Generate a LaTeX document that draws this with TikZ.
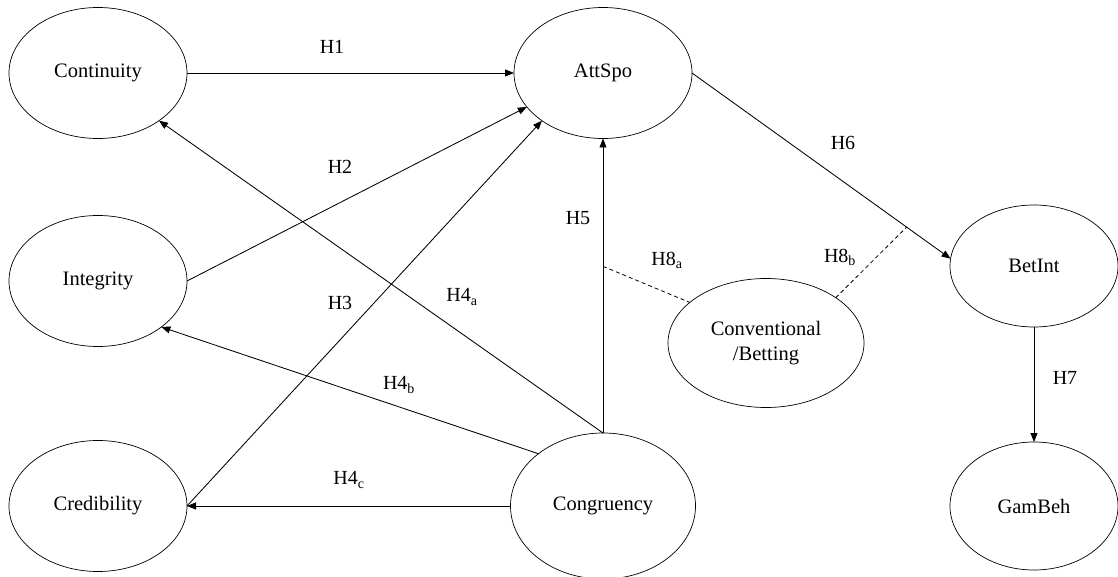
\documentclass[tikz,border=0pt]{standalone}
\usepackage{fontspec}
\setmainfont{Liberation Serif}
\usetikzlibrary{shapes.geometric,arrows.meta}

\tikzset{
  construct/.style={draw, ellipse, line width=0.7pt, inner sep=0pt, outer sep=0pt,
    minimum width=178pt, minimum height=131pt, align=center,
    font=\fontsize{20.5}{25}\selectfont},
  path/.style={line width=0.85pt, -{Triangle[length=9pt,width=7pt]}},
  moderate/.style={line width=0.8pt, dashed, dash pattern=on 4pt off 3pt},
  hyp/.style={font=\fontsize{20}{24}\selectfont}
}

\begin{document}
\begin{tikzpicture}[x=1pt, y=-1pt]
      \useasboundingbox (0,0) rectangle (1118,577);
      % constructs on the left
      \node[construct] (cont) at (98,73) {Continuity};
      \node[construct] (integ) at (98,281) {Integrity};
      \node[construct] (cred) at (98,506) {Credibility};
      % attitude and congruency in the middle
      \node[construct] (att) at (603,73) {AttSpo};
      \node[construct, minimum width=185pt, minimum height=146pt] (cong) at (603,506) {Congruency};
      % moderator
      \node[construct, minimum width=196pt, minimum height=129pt] (conv) at (766,343) {Conventional\\/Betting};
      % outcomes on the right
      \node[construct, minimum width=168pt, minimum height=122pt] (betint) at (1034,266) {BetInt};
      \node[construct, minimum width=168pt, minimum height=128pt] (gam) at (1034,506) {GamBeh};
      % paths to AttSpo
      \draw[path] (cont.east) -- (att.west);
      \draw[path] (integ.east) -- (att.204);
      \draw[path] (cred.east) -- (att.218);
      % paths from Congruency
      \draw[path] (cong.north) -- (cont.322);
      \draw[path] (cong.141) -- (integ.324);
      \draw[path] (cong.west) -- (cred.east);
      \draw[path] (cong.north) -- coordinate[pos=0.566] (h5pt) (att.south);
      % outcomes
      \draw[path] (att.east) -- coordinate[pos=0.83] (h6pt) (betint.175);
      \draw[path] (betint.south) -- (gam.north);
      % moderating effects
      \draw[moderate] (h5pt) -- (conv.152);
      \draw[moderate] (conv.33) -- (h6pt);
      % hypothesis labels
      \node[hyp] (h1) at (332,47) {H1};
      \node[hyp] (h2) at (340,167) {H2};
      \node[hyp] (h3) at (340,303) {H3};
      \node[hyp] (h4a) at (462,297) {H4\textsubscript{a}};
      \node[hyp] (h4b) at (399,385) {H4\textsubscript{b}};
      \node[hyp] (h4c) at (349,480) {H4\textsubscript{c}};
      \node[hyp] (h5) at (578,218) {H5};
      \node[hyp] (h6) at (843,143) {H6};
      \node[hyp] (h7) at (1065,378) {H7};
      \node[hyp] (h8a) at (667,260) {H8\textsubscript{a}};
      \node[hyp] (h8b) at (840,257) {H8\textsubscript{b}};
\end{tikzpicture}
\end{document}
